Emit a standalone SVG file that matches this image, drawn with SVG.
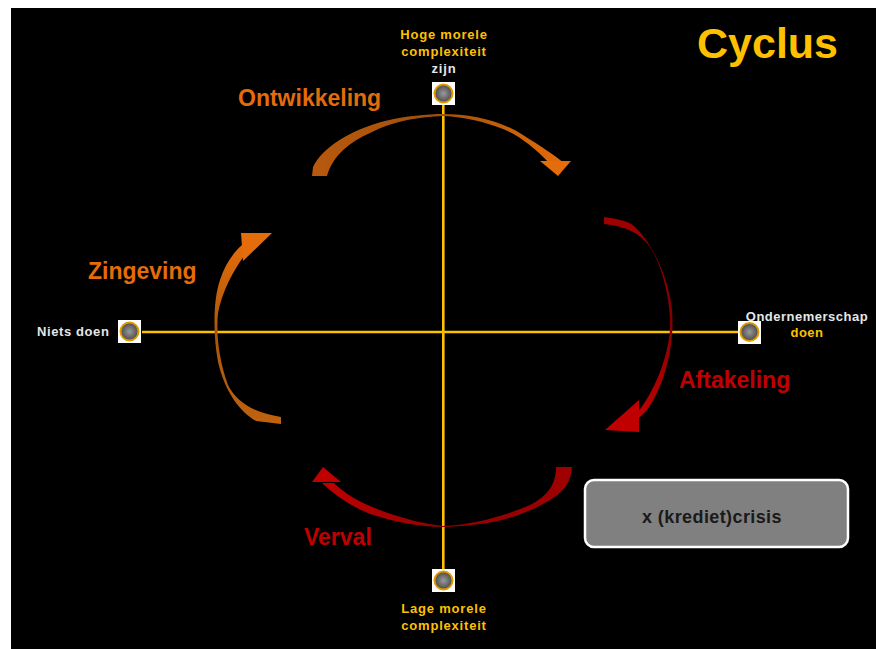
<svg xmlns="http://www.w3.org/2000/svg" width="879" height="649" viewBox="0 0 879 649">
<style>
.lbl{font-family:"Liberation Sans",Arial,sans-serif;font-weight:bold}
.big{font-size:23px}
.sm{font-size:13px;letter-spacing:0.8px}
.ax{stroke:#FFC000;stroke-width:2.6;fill:none}
.nodebg{fill:#FFFFFF}
.dot{fill:url(#gDot);stroke:#E09A00;stroke-width:2}
</style>
<defs>
<radialGradient id="gDot" cx="0.5" cy="0.5" r="0.5">
<stop offset="0" stop-color="#9A9A9A"/>
<stop offset="1" stop-color="#4A4A4A"/>
</radialGradient>
<linearGradient id="gTop" x1="0" y1="0" x2="1" y2="0">
<stop offset="0" stop-color="#B8590E"/>
<stop offset="0.5" stop-color="#A0500C"/>
<stop offset="1" stop-color="#E46C0A"/>
</linearGradient>
<linearGradient id="gLeft" x1="0" y1="0" x2="0" y2="1">
<stop offset="0" stop-color="#E46C0A"/>
<stop offset="0.5" stop-color="#A8560C"/>
<stop offset="1" stop-color="#C0620F"/>
</linearGradient>
<linearGradient id="gRight" x1="0" y1="0" x2="0" y2="1">
<stop offset="0" stop-color="#A00000"/>
<stop offset="0.5" stop-color="#800000"/>
<stop offset="1" stop-color="#C00000"/>
</linearGradient>
<linearGradient id="gBottom" x1="0" y1="0" x2="1" y2="0">
<stop offset="0" stop-color="#C00000"/>
<stop offset="0.5" stop-color="#900000"/>
<stop offset="1" stop-color="#A00000"/>
</linearGradient>
</defs>
<rect x="0" y="0" width="879" height="649" fill="#FFFFFF"/>
<rect x="11" y="8" width="865" height="641" fill="#000000"/>

<g id="connectors">
<line class="ax" x1="142" y1="332" x2="738" y2="332"/>
<line class="ax" x1="443.3" y1="105" x2="443.3" y2="569"/>
</g>

<g id="arrow-ontwikkeling">
<path fill="url(#gTop)" d="M312,176 L313,167 C322,148 350,130 385,121 C405,116 428,114 443,114 C470,114 500,120 523,135 C540,146 552,153 564,163 L549,163 C535,148 520,136 503,129 C485,122 465,117 443,116 C420,117 395,120 370,133 C350,142 333,155 327,176 Z"/>
<path fill="#E46C0A" d="M540,161 L571,161 L558,176 Z"/>
</g>
<g id="arrow-aftakeling">
<path fill="url(#gRight)" d="M604,217 C618,219 628,221 634,226 C652,243 668,275 672,310 C675,345 665,385 647,410 L639,418 L638,412 C655,390 667,360 670,330 C671,300 662,265 650,247 C640,233 625,226 604,224 Z"/>
<path fill="#C00000" d="M639,400 L639,432 L605,430 Z"/>
</g>
<g id="arrow-verval">
<path fill="url(#gBottom)" d="M572,467 C571,480 566,490 553,498 C535,510 510,520 480,524 C465,526 450,527 443,527 C420,527 395,522 370,514 C350,506 335,495 322,483 L334,483 C345,494 360,503 385,512 C405,519 425,524 443,526 C470,525 500,518 530,505 C545,497 556,487 556,467 Z"/>
<path fill="#C00000" d="M312,482 L341,482 L323,467 Z"/>
</g>
<g id="arrow-zingeving">
<path fill="url(#gLeft)" d="M281,424 L256,421 C240,412 225,392 218,362 C213,335 213,300 220,280 C225,265 232,254 242,245 L248,251 C234,268 222,292 218,313 C216,335 219,360 228,385 C237,403 255,413 281,417 Z"/>
<path fill="#E46C0A" d="M241,233 L272,233 L243,261 Z"/>
</g>

<g id="node-top">
<rect class="nodebg" x="432" y="82" width="23" height="23"/>
<circle class="dot" cx="443.5" cy="93.5" r="9"/>
<text class="lbl sm" x="444" y="39" text-anchor="middle" fill="#FFC000">Hoge morele</text>
<text class="lbl sm" x="444" y="56" text-anchor="middle" fill="#FFC000">complexiteit</text>
<text class="lbl sm" x="444" y="73" text-anchor="middle" fill="#E6E6E6">zijn</text>
</g>
<g id="node-bottom">
<rect class="nodebg" x="432" y="569" width="23" height="23"/>
<circle class="dot" cx="443.5" cy="580.5" r="9"/>
<text class="lbl sm" x="444" y="613" text-anchor="middle" fill="#FFC000">Lage morele</text>
<text class="lbl sm" x="444" y="630" text-anchor="middle" fill="#FFC000">complexiteit</text>
</g>
<g id="node-left">
<rect class="nodebg" x="118" y="320" width="23" height="23"/>
<circle class="dot" cx="129.5" cy="331.5" r="9"/>
<text class="lbl" x="37" y="336" font-size="13" letter-spacing="0.6" fill="#E6E6E6">Niets doen</text>
</g>
<g id="node-right">
<rect class="nodebg" x="738" y="321" width="23" height="23"/>
<circle class="dot" cx="749.5" cy="332" r="9"/>
<text class="lbl" x="807" y="321" font-size="13" letter-spacing="0.5" text-anchor="middle" fill="#E6E6E6">Ondernemerschap</text>
<text class="lbl" x="807" y="337" font-size="13" letter-spacing="0.5" text-anchor="middle" fill="#FFC000">doen</text>
</g>

<g id="labels">
<text class="lbl big" x="238" y="106" fill="#E46C0A">Ontwikkeling</text>
<text class="lbl big" x="88" y="279" fill="#E46C0A">Zingeving</text>
<text class="lbl big" x="679" y="388" fill="#C00000">Aftakeling</text>
<text class="lbl big" x="304" y="545" fill="#C00000">Verval</text>
<text class="lbl" x="697" y="58" font-size="43" fill="#FFC000">Cyclus</text>
</g>

<g id="node-crisis">
<rect x="585" y="480" width="263" height="67" rx="9" fill="#808080" stroke="#FFFFFF" stroke-width="2.5"/>
<text class="lbl" x="712" y="523" font-size="18" letter-spacing="0.4" text-anchor="middle" fill="#1A1A1A">x (krediet)crisis</text>
</g>
</svg>
